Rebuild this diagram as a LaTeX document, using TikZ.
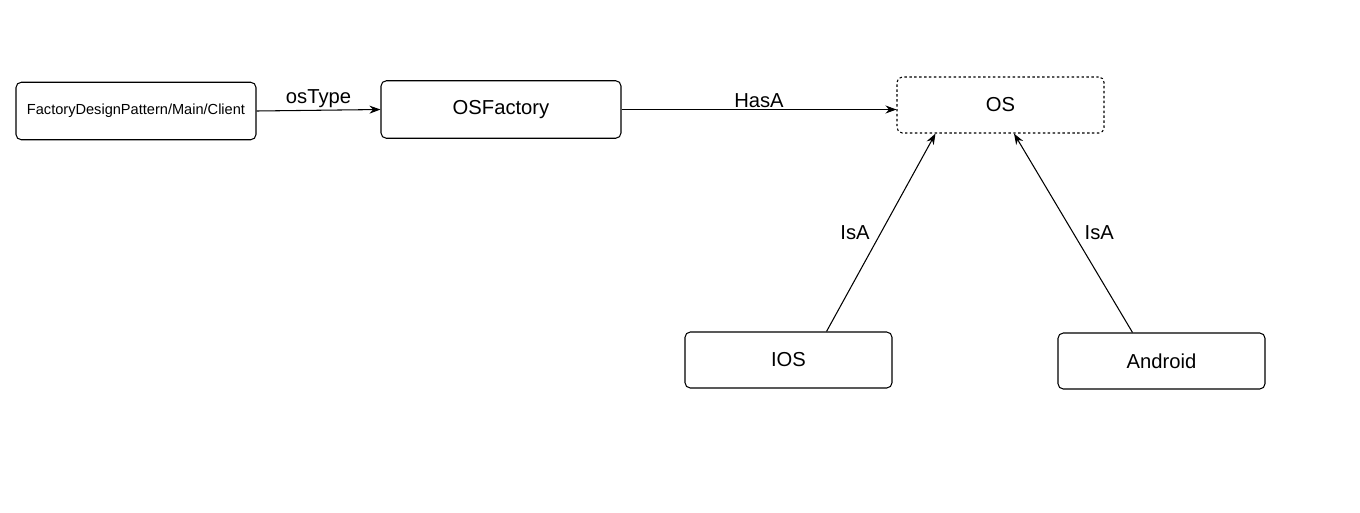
\documentclass[tikz,border=0pt]{standalone}
\usepackage{fontspec}
\setmainfont{Liberation Sans}
\usetikzlibrary{arrows.meta, positioning, calc}

\begin{document}
\begin{tikzpicture}[
	  font=\fontsize{11.5}{13}\selectfont,
	  box/.style={
	    draw,
	    line width=0.6pt,
	    rounded corners=3pt,
	    align=center,
	    minimum width=41.4mm,
	    minimum height=11.2mm,
	    inner sep=0pt
	  },
	  widebox/.style={box,minimum width=48mm,minimum height=11.5mm},
	  dashbox/.style={box,dash pattern=on 1.4pt off 1.4pt},
	  arrow/.style={-{Stealth[length=2.2mm,width=1.6mm]},line width=0.6pt}
	]
	
	\useasboundingbox (0,0) rectangle (27.2,-10.24);
	
	\node[widebox] (client) at (2.72,-2.22) {\fontsize{8.3}{10}\selectfont FactoryDesignPattern/Main/Client};
	\node[widebox] (factory) at (10.02,-2.19) {OSFactory};
	\node[dashbox] (os) at (20.01,-2.10) {OS};
	
	\node[box] (ios) at (15.77,-7.20) {IOS};
	\node[box] (android) at (23.23,-7.22) {Android};
	
	\draw[arrow] (client.east) -- node[above, inner sep=1pt]{osType} (factory.west);
	\draw[arrow] (factory.east) -- node[above, inner sep=1pt]{HasA} (factory.east -| os.west);
	\draw[arrow] ($(ios.north)+(0.76,0)$) -- node[left, pos=0.5, xshift=-1mm]{IsA} ($(os.south)+(-1.3,0)$);
	\draw[arrow] ($(android.north)+(-0.58,0)$) -- node[right, pos=0.5, xshift=1mm]{IsA} ($(os.south)+(0.27,0)$);
	
	\end{tikzpicture}
\end{document}
